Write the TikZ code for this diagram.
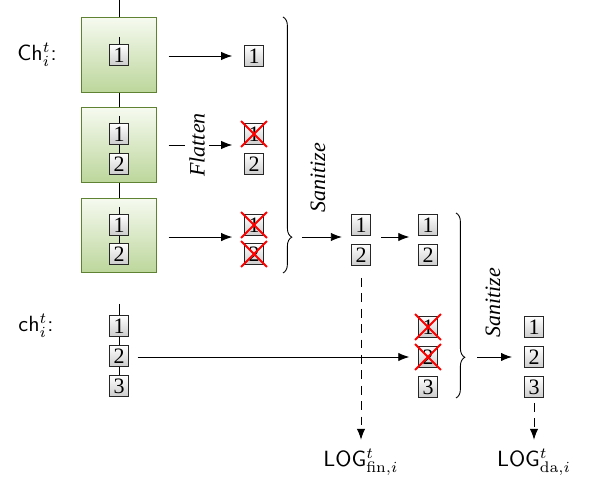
\documentclass[tikz,border=0pt]{standalone}
\usepackage[no-math]{fontspec}
\newfontfamily\tms{Liberation Serif}
\usetikzlibrary{arrows.meta,decorations.pathreplacing}
\definecolor{gborder}{RGB}{95,130,50}
\definecolor{gtop}{RGB}{246,250,240}
\definecolor{gbot}{RGB}{188,214,155}
\tikzset{
  sbox/.style={draw=black!85, top color=white, bottom color=black!20, minimum width=8.6pt, minimum height=9.5pt, inner sep=0pt, font=\tms},
  gbox/.style={draw=gborder, top color=gtop, bottom color=gbot, minimum width=34pt, minimum height=34pt, inner sep=0pt},
  arr/.style={-{Latex[length=5pt,width=3.8pt]}},
  xline/.style={red, line width=0.9pt},
  br/.style={decorate, decoration={brace, amplitude=4pt}},
  lbl/.style={font=\tms\itshape, rotate=90, inner sep=2pt}
}
\newcommand{\xout}[1]{\draw[xline] ([shift={(-5.9pt,-5.9pt)}]#1.center) -- ([shift={(5.9pt,5.9pt)}]#1.center);
  \draw[xline] ([shift={(-5.9pt,5.9pt)}]#1.center) -- ([shift={(5.9pt,-5.9pt)}]#1.center);}
\begin{document}
\begin{tikzpicture}[x=0.4545pt,y=-0.4545pt]
\useasboundingbox (0,0) rectangle (589,483);
% labels
\node (chbig) at (37,55) {\textsf{Ch}$^t_i$\textsf{:}};
\node (chsmall) at (36,326) {\textsf{ch}$^t_i$\textsf{:}};
% green boxes
\node[gbox] (g1) at (119,55) {};
\node[gbox] (g2) at (119,145) {};
\node[gbox] (g3) at (119,235.5) {};
\coordinate (top) at (119,0);
\draw (top) -- (g1.north);
\draw (g1.south) -- (g2.north);
\draw (g2.south) -- (g3.north);
% inner boxes
\node[sbox] (a1) at (119,55) {1};
\coordinate (ta1) at (119,37);
\draw (ta1) -- (a1.north);
\node[sbox] (b1) at (119,134) {1};
\node[sbox] (b2) at (119,164) {2};
\coordinate (tb1) at (119,116);
\draw (tb1) -- (b1.north);
\draw (b1) -- (b2);
\node[sbox] (c1) at (119,225) {1};
\node[sbox] (c2) at (119,254) {2};
\coordinate (tc1) at (119,207);
\draw (tc1) -- (c1.north);
\draw (c1) -- (c2);
% right column after flatten
\node[sbox] (r1) at (254,56) {1};
\node[sbox] (r21) at (254,134) {1};
\node[sbox] (r22) at (254,164) {2};
\node[sbox] (r31) at (254,225) {1};
\node[sbox] (r32) at (254,254) {2};
\xout{r21}
\xout{r31}
\xout{r32}
% arrows
\draw[arr, shorten <=5.4pt, shorten >=5.4pt] (g1.east |- r1.west) -- (r1.west);
\draw[arr, shorten <=5.4pt, shorten >=5.4pt] (g2.east) -- (g2.east -| r21.west) node[lbl, fill=white, pos=0.46] (flat) {Flatten};
\draw[arr, shorten <=5.4pt, shorten >=5.4pt] ([yshift=-0.7pt]g3.east) -- ([yshift=-0.7pt]g3.east -| r31.west);
% brace 1
\coordinate (b1s) at (283,17);
\coordinate (b1e) at (283,273);
\draw[br, decoration={aspect=0.86}] (b1s) -- (b1e);
\coordinate (tip1) at (293,237);
\node[lbl] (san1) at (318,178) {Sanitize};
% sanitized
\node[sbox] (s1) at (361,225) {1};
\node[sbox] (s2) at (361,255) {2};
\node[sbox] (t1) at (428,225) {1};
\node[sbox] (t2) at (428,255) {2};
\draw[arr, shorten <=4pt, shorten >=4.2pt] (tip1) -- (tip1 -| s1.west);
\draw[arr, shorten <=4.8pt, shorten >=4pt] (tip1 -| s1.east) -- (tip1 -| t1.west);
% ch row
\node[sbox] (d1) at (119,326) {1};
\node[sbox] (d2) at (119,356) {2};
\node[sbox] (d3) at (119,386) {3};
\coordinate (td1) at (119,304);
\draw (td1) -- (d1.north);
\draw (d1) -- (d2);
\draw (d2) -- (d3);
\node[sbox] (x1) at (428,327) {1};
\node[sbox] (x2) at (428,357) {2};
\node[sbox] (x3) at (428,387) {3};
\xout{x1}
\xout{x2}
\draw[arr, shorten <=4pt, shorten >=4pt] (d2.east |- x2.west) -- (x2.west);
% brace 2
\coordinate (b2s) at (456,213);
\coordinate (b2e) at (456,398);
\draw[br, decoration={aspect=0.78}] (b2s) -- (b2e);
\coordinate (tip2) at (466,357);
\node[lbl] (san2) at (493,303) {Sanitize};
\node[sbox] (f1) at (534,327) {1};
\node[sbox] (f2) at (534,357) {2};
\node[sbox] (f3) at (534,387) {3};
\draw[arr, shorten <=5pt, shorten >=5.5pt] (tip2) -- (f2.west);
% logs
\node (logfin) at (361,462) {\textsf{LOG}$^t_{\mathrm{fin},i}$};
\node (logda) at (534,462) {\textsf{LOG}$^t_{\mathrm{da},i}$};
\draw[arr, dashed, dash pattern=on 4pt off 3pt, shorten <=5.5pt, shorten >=0.5pt] (s2.south) -- (logfin.north);
\draw[arr, dashed, dash pattern=on 4pt off 3pt, shorten <=2.3pt, shorten >=0.5pt] (f3.south) -- (logda.north);
\end{tikzpicture}
\end{document}
